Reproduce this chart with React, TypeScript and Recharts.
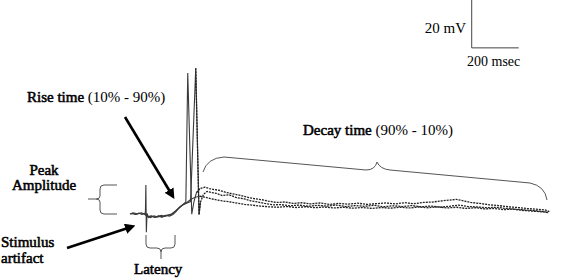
import React from "react";
import { LineChart, Line, XAxis, YAxis, ReferenceLine } from "recharts";

// Recording traces: time (ms, stimulus at 0) and membrane potential (mV above baseline)
const timesA = [-68, -55, -42, -30, -18, -6, -2, 0, 2, 5, 12, 25, 40, 55, 70, 85, 100, 115, 130, 145, 160, 170, 178, 195, 205, 215, 230, 250, 270, 290, 315, 340, 370, 400, 430, 460, 490, 520, 555, 590, 625, 660, 700, 740, 780, 820, 860, 900, 940, 980, 1020, 1060, 1100, 1140, 1180, 1220, 1260, 1300, 1320, 1340, 1380, 1420, 1460, 1500, 1540, 1580, 1620, 1660, 1700, 1715];
const voltsA = [0.6, 1.1, 0.4, 1.0, 0.5, 0.9, 1.0, 12.7, -7, 0.8, -0.9, -0.3, -0.8, -0.2, -0.6, 0.0, -0.3, 0.4, 1.8, 3.6, 4.8, 5.6, 59.5, 0.5, 6, 9.5, 11.2, 11.8, 11.2, 10.8, 10.4, 9.6, 9.0, 8.4, 7.6, 7.0, 6.6, 6.0, 5.4, 5.6, 5.0, 5.3, 4.8, 5.2, 4.6, 5.0, 4.7, 5.1, 4.6, 4.9, 5.2, 4.8, 5.3, 4.9, 5.4, 5.6, 6.1, 6.5, 6.7, 6.3, 5.4, 5.0, 4.4, 4.1, 3.6, 3.3, 2.9, 2.6, 2.2, 1.6];

const timesB = [-60, -45, -30, -15, -4, 6, 20, 35, 50, 65, 80, 95, 110, 125, 140, 155, 170, 190, 212, 226, 232, 245, 260, 280, 300, 325, 355, 385, 415, 445, 475, 505, 540, 575, 610, 650, 690, 730, 770, 810, 850, 890, 930, 970, 1010, 1050, 1090, 1130, 1170, 1210, 1250, 1290, 1330, 1370, 1410, 1450, 1490, 1530, 1570, 1610, 1650, 1690, 1710];
const voltsB = [0.8, 0.4, 0.9, 0.5, 0.7, -0.4, -0.9, -0.2, -0.7, 0.0, -0.4, 0.2, 0.6, 1.8, 3.0, 4.2, 5.0, 5.8, 61.5, 0.3, 5.5, 8.8, 10.0, 9.5, 9.2, 8.3, 8.6, 7.4, 7.0, 6.1, 5.6, 5.0, 4.4, 4.5, 4.0, 4.3, 3.8, 4.2, 3.9, 4.3, 3.7, 4.1, 3.8, 4.2, 3.6, 4.0, 3.7, 4.1, 3.6, 3.9, 3.4, 3.8, 4.3, 3.7, 3.5, 3.2, 3.4, 2.9, 2.6, 2.3, 2.0, 1.6, 1.3];

const timesC = [-65, -50, -35, -20, -8, 8, 22, 38, 52, 68, 82, 98, 112, 128, 142, 158, 172, 190, 210, 230, 250, 275, 300, 330, 360, 390, 420, 450, 485, 520, 560, 600, 640, 680, 720, 760, 800, 840, 880, 920, 960, 1000, 1040, 1080, 1120, 1160, 1200, 1240, 1280, 1320, 1360, 1400, 1440, 1480, 1520, 1560, 1600, 1640, 1680, 1710];
const voltsC = [0.5, 1.0, 0.6, 1.1, 0.7, -0.6, -0.2, -0.8, -0.3, -0.7, -0.1, 0.1, 0.7, 2.0, 3.3, 4.5, 5.2, 6.6, 7.6, 8.0, 7.6, 7.0, 6.5, 6.0, 5.6, 5.1, 4.6, 4.3, 3.9, 3.6, 3.4, 3.7, 3.3, 3.6, 3.2, 3.5, 3.1, 3.4, 3.0, 3.3, 2.9, 3.3, 3.0, 3.4, 3.1, 3.5, 3.2, 3.6, 3.1, 3.4, 2.9, 3.2, 2.7, 2.9, 2.4, 2.6, 2.1, 1.8, 1.5, 1.2];

// the spikes end here; later samples are drawn with the noisy dashed look
const spikeEndTime = 232;

// scale bar: 200 msec by 20 mV
const scaleBarOrigin = { t: 1385, v: 70 };
const scaleBarTime = 200;
const scaleBarVolt = 20;

const toRows = (times: number[], volts: number[]) => times.map((t, i) => ({ t, v: volts[i] }));

const traces = [
	{ key: "a", rows: toRows(timesA, voltsA) },
	{ key: "b", rows: toRows(timesB, voltsB) },
	{ key: "c", rows: toRows(timesC, voltsC) },
];

const FONT = "Liberation Serif";
// no bold serif face is installed, so thicken the regular one with a stroke
const bold = { fontFamily: FONT, stroke: "#000", strokeWidth: 0.55 };

export default function App() {
	return (
		<div style={{ position: "absolute", left: 0, top: 0, width: 567, height: 280, background: "#fff" }}>
			<LineChart width={567} height={280} margin={{ top: 0, right: 0, bottom: 0, left: 0 }}>
				<XAxis type="number" dataKey="t" domain={[-620, 1790]} hide allowDataOverflow />
				<YAxis type="number" dataKey="v" domain={[-27, 90]} hide allowDataOverflow />
				{traces.map((tr) => (
					<Line
						key={tr.key + "-early"}
						data={tr.rows.filter((r) => r.t <= spikeEndTime)}
						dataKey="v"
						type="linear"
						stroke="#3a3a3a"
						strokeWidth={1.1}
						dot={false}
						activeDot={false}
						legendType="none"
						isAnimationActive={false}
					/>
				))}
				{traces.map((tr) => (
					<Line
						key={tr.key + "-late"}
						data={tr.rows.filter((r) => r.t >= spikeEndTime - 20)}
						dataKey="v"
						type="linear"
						stroke="#222"
						strokeWidth={1.3}
						strokeDasharray="2 1"
						dot={false}
						activeDot={false}
						legendType="none"
						isAnimationActive={false}
					/>
				))}
				<ReferenceLine
					segment={[
						{ x: scaleBarOrigin.t, y: scaleBarOrigin.v },
						{ x: scaleBarOrigin.t, y: scaleBarOrigin.v + scaleBarVolt },
					]}
					stroke="#444"
					strokeWidth={1}
				/>
				<ReferenceLine
					segment={[
						{ x: scaleBarOrigin.t, y: scaleBarOrigin.v },
						{ x: scaleBarOrigin.t + scaleBarTime, y: scaleBarOrigin.v },
					]}
					stroke="#444"
					strokeWidth={1}
				/>
			</LineChart>

			{/* annotations */}
			<svg width={567} height={280} style={{ position: "absolute", left: 0, top: 0, pointerEvents: "none", fontFamily: FONT }}>
				<defs>
					<marker id="arrowhead" markerWidth="4" markerHeight="4" refX="2.2" refY="2" orient="auto" markerUnits="strokeWidth">
						<path d="M0,0 L4,2 L0,4 Z" fill="#000" />
					</marker>
				</defs>
				<g style={{ fontFamily: FONT, fontSize: 15 }} fill="#000">
					<text x={466} y={33} textAnchor="end">20 mV</text>
					<text x={467} y={66} style={{ fontSize: 14 }}>200 msec</text>
					<text x={27} y={102}>
						<tspan style={bold}>Rise time</tspan> (10% - 90%)
					</text>
					<text x={303} y={135}>
						<tspan style={bold}>Decay time</tspan> (90% - 10%)
					</text>
					<text x={44} y={175} textAnchor="middle" style={bold}>Peak</text>
					<text x={44} y={190} textAnchor="middle" style={bold}>Amplitude</text>
					<text x={1} y={247} style={bold}>Stimulus</text>
					<text x={1} y={263} style={bold}>artifact</text>
					<text x={134} y={274} style={bold}>Latency</text>
				</g>
				<g fill="none" stroke="#000">
					<line x1={125} y1={117} x2={172} y2={195} strokeWidth={2.6} markerEnd="url(#arrowhead)" />
					<line x1={67} y1={248} x2={131} y2={227} strokeWidth={2.6} markerEnd="url(#arrowhead)" />
				</g>
				<g fill="none" stroke="#555" strokeWidth={1}>
					<path d="M117,185 L104,185 Q100,185 100,189 L100,196 Q100,199 96,199 L88,199 M96,199 Q100,199 100,202 L100,210 Q100,214 104,214 L117,214" />
					<path d="M146,235 L146,244 Q146,248 150,248 L157,248 Q161,248 161,252 L161,259 M161,252 Q161,248 165,248 L171,248 Q175,248 175,244 L175,235" />
					<path d="M203,172 Q207,158 224,157 L366,170 Q375,170 377,162 Q380,169 390,170 L530,183 Q545,186 547,200" />
				</g>
			</svg>
		</div>
	);
}
